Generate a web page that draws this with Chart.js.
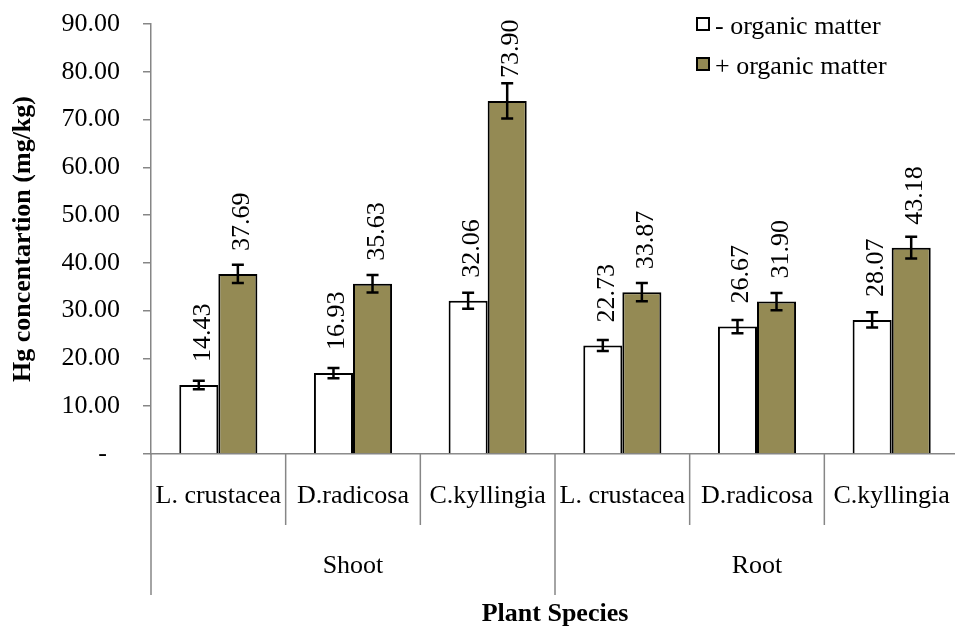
<!DOCTYPE html>
<html><head><meta charset="utf-8">
<script src="https://cdn.jsdelivr.net/npm/chart.js@4"></script>
<style>html,body{margin:0;padding:0;overflow:hidden;background:#fff}#wrap{width:959px;height:627px;position:relative}</style>
</head><body><div id="wrap"><canvas id="c"></canvas></div>
<script>
const species = ['L. crustacea','D.radicosa','C.kyllingia','L. crustacea','D.radicosa','C.kyllingia'];
const groups = ['Shoot','Root'];
const groupSize = 3;
const seriesNames = ['- organic matter','+ organic matter'];
const withoutOM = [14.43, 16.93, 32.06, 22.73, 26.67, 28.07];
const withOM = [37.69, 35.63, 73.90, 33.87, 31.90, 43.18];
const errWithout = [0.9, 1.05, 1.67, 1.15, 1.4, 1.6];
const errWith = [1.9, 1.85, 3.7, 1.9, 1.8, 2.27];
const yTicks = [0,10,20,30,40,50,60,70,80,90];

const SERIF = "'Liberation Serif','Times New Roman',serif";
const AXIS_GRAY = '#868686';
const OLIVE = '#948A54';

const extras = {
  id: 'extras',
  afterDraw(chart) {
    const ctx = chart.ctx;
    const xs = chart.scales.x, ys = chart.scales.y;
    const errs = [errWithout, errWith];
    ctx.save();
    // error bars + value labels
    chart.data.datasets.forEach((ds, di) => {
      const meta = chart.getDatasetMeta(di);
      meta.data.forEach((el, j) => {
        const v = ds.data[j], e = errs[di][j];
        const x = el.x;
        const yt = ys.getPixelForValue(v + e), yb = ys.getPixelForValue(v - e);
        ctx.strokeStyle = '#000';
        ctx.lineWidth = 2.5;
        ctx.beginPath();
        ctx.moveTo(x, yt); ctx.lineTo(x, yb);
        ctx.moveTo(x - 6, yt); ctx.lineTo(x + 6, yt);
        ctx.moveTo(x - 6, yb); ctx.lineTo(x + 6, yb);
        ctx.stroke();
        // label
        const yTop = ys.getPixelForValue(v);
        ctx.save();
        ctx.translate(x + 11, yTop - 23);
        ctx.rotate(-Math.PI / 2);
        ctx.fillStyle = '#000';
        ctx.font = '26px ' + SERIF;
        ctx.textAlign = 'left';
        ctx.textBaseline = 'alphabetic';
        ctx.fillText(v.toFixed(2), 0, 0);
        ctx.restore();
      });
    });
    // multi-level category axis
    const n = species.length;
    const catW = (xs.right - xs.left) / n;
    const y0 = ys.bottom;
    ctx.strokeStyle = AXIS_GRAY;
    ctx.lineWidth = 1.5;
    for (let k = 0; k <= n; k++) {
      const bx = xs.left + k * catW;
      const long = (k % groupSize === 0);
      ctx.beginPath();
      ctx.moveTo(bx, y0);
      ctx.lineTo(bx, long ? 595 : 525);
      ctx.stroke();
    }
    ctx.fillStyle = '#000';
    ctx.font = '26px ' + SERIF;
    ctx.textAlign = 'center';
    ctx.textBaseline = 'alphabetic';
    species.forEach((s, i) => {
      ctx.fillText(s, xs.getPixelForValue(i), 503);
    });
    groups.forEach((g, gi) => {
      const cx = xs.left + (gi * groupSize + groupSize / 2) * catW;
      ctx.fillText(g, cx, 573);
    });
    // legend
    const legY = [18, 58];
    chart.data.datasets.forEach((ds, di) => {
      ctx.fillStyle = ds.backgroundColor;
      ctx.fillRect(697, legY[di], 12, 12);
      ctx.strokeStyle = '#000';
      ctx.lineWidth = 2;
      ctx.strokeRect(697, legY[di], 12, 12);
      ctx.fillStyle = '#000';
      ctx.textAlign = 'left';
      ctx.font = '26px ' + SERIF;
      ctx.fillText(seriesNames[di], 715, legY[di] + 16);
    });
    ctx.restore();
  }
};

new Chart(document.getElementById('c'), {
  type: 'bar',
  data: {
    labels: species,
    datasets: [
      { label: seriesNames[0], data: withoutOM, backgroundColor: '#FFFFFF', borderColor: '#000', borderWidth: 2 },
      { label: seriesNames[1], data: withOM, backgroundColor: OLIVE, borderColor: '#000', borderWidth: 2 }
    ]
  },
  options: {
    responsive: true,
    maintainAspectRatio: false,
    devicePixelRatio: 1,
    animation: false,
    datasets: { bar: { categoryPercentage: 0.58, barPercentage: 1.0 } },
    layout: { padding: { top: 24, left: 0, right: 0, bottom: 0 } },
    plugins: { legend: { display: false }, tooltip: { enabled: false } },
    scales: {
      x: {
        ticks: { display: false },
        grid: { display: false },
        border: { display: true, color: AXIS_GRAY, width: 1.5 },
        title: { display: true, text: 'Plant Species', color: '#000',
          font: { family: SERIF, size: 26, weight: 'bold', lineHeight: 1 }, padding: { top: 0, bottom: 0 } },
        afterFit: s => { s.height = 173; }
      },
      y: {
        min: 0, max: 90,
        afterBuildTicks: s => { s.ticks = yTicks.map(v => ({ value: v })); },
        ticks: {
          color: '#000',
          font: { family: SERIF, size: 26 },
          padding: 23,
          callback: v => v === 0 ? '-  ' : Number(v).toFixed(2)
        },
        grid: { drawOnChartArea: false, drawTicks: true, tickLength: 8, color: AXIS_GRAY, lineWidth: 1.5 },
        border: { display: true, color: AXIS_GRAY, width: 1.5 },
        title: { display: true, text: 'Hg concentartion (mg/kg)', color: '#000',
          font: { family: SERIF, size: 26, weight: 'bold', lineHeight: 1 }, padding: { top: 10, bottom: 0 } },
        afterFit: s => { s.width = 151; s.paddingTop = 0; s.paddingBottom = 0; }
      }
    }
  },
  plugins: [extras]
});
</script>
</body></html>
